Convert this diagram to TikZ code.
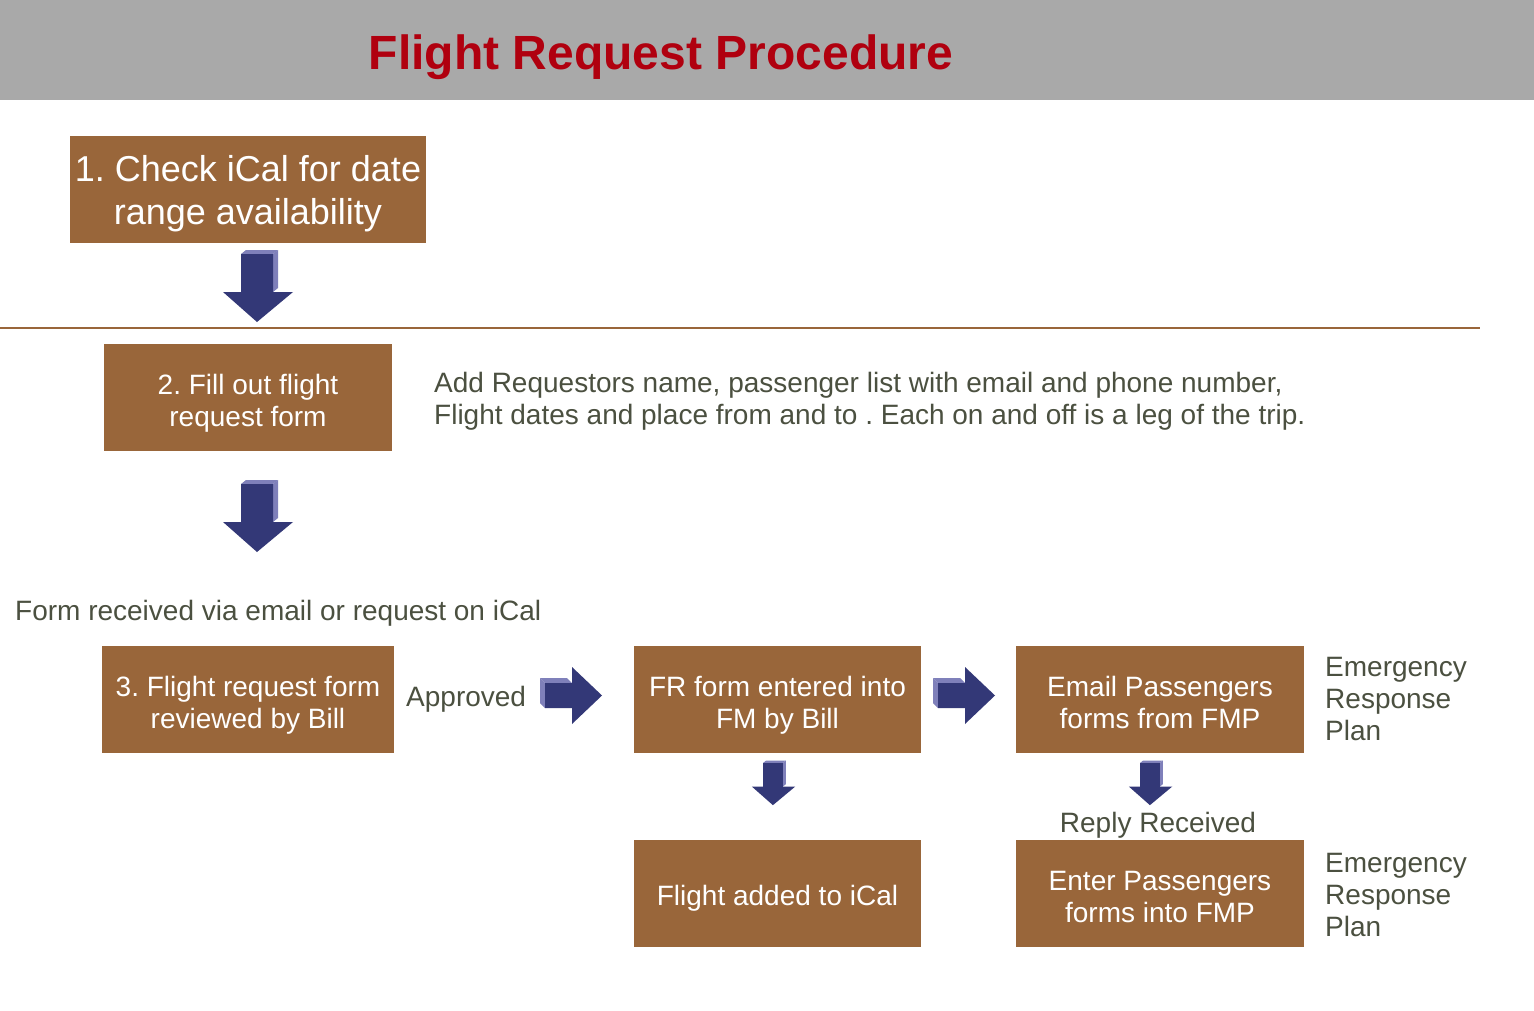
\documentclass[tikz,border=0pt]{standalone}
\usepackage{fontspec}
\setmainfont{Liberation Sans}
\definecolor{band}{HTML}{A9A9A9}
\definecolor{titlered}{HTML}{B0000F}
\definecolor{boxbrown}{HTML}{99663A}
\definecolor{txt}{HTML}{4B5040}
\definecolor{navy}{HTML}{333877}
\definecolor{navylight}{HTML}{7F80BA}
\begin{document}
\frenchspacing
\begin{tikzpicture}[x=1pt,y=-1pt,
  stepbox/.style={fill=boxbrown,draw=none,text=white,inner sep=0pt,align=center,
    text depth=0pt,text height=57pt,font=\fontsize{28}{32}\selectfont\frenchspacing},
  plain/.style={text=txt,inner sep=0pt,text depth=0pt,font=\fontsize{28}{32}\selectfont\frenchspacing},
  downarr/.pic={
    \fill[navylight] (0,0) -- (5,-4) -- (37,-4) -- (32,0) -- cycle;
    \fill[navylight] (32,0) -- (37,-4) -- (37,34) -- (32,38) -- cycle;
    \fill[navy] (0,0) -- (32,0) -- (32,38) -- (52,38) -- (16,68) -- (-18,38) -- (0,38) -- cycle;
  },
  rightarr/.pic={
    \fill[navylight] (-5,-5) -- (22,-5) -- (27,0) -- (0,0) -- cycle;
    \fill[navylight] (-5,-5) -- (0,0) -- (0,25) -- (-5,20) -- cycle;
    \fill[navy] (0,0) -- (27,0) -- (27,-16) -- (57,12.5) -- (27,41) -- (27,25) -- (0,25) -- cycle;
  }]
\useasboundingbox (0,0) rectangle (1534,1010);
\fill[white] (0,0) rectangle (1534,1010);
\fill[band] (0,0) rectangle (1534,100);
\node[text=titlered,inner sep=0pt,text depth=0pt,font=\bfseries\fontsize{48}{52}\selectfont] (title) at (661,52) {Flight Request Procedure};

\node[stepbox,minimum width=356pt,minimum height=107pt,text height=,font=\fontsize{36}{43}\selectfont\frenchspacing] (b1) at (248,189.5) {1. Check iCal for date\\range availability};
\pic at (241,254) {downarr};
\draw[boxbrown,line width=1.5pt] (0,328) -- (1480,328);

\node[stepbox,minimum width=288pt,minimum height=107pt] (b2) at (248,397.5) {2. Fill out flight\\request form};
\node[plain,anchor=west,align=left] (desc) at (434,398) {Add Requestors name, passenger list with email and phone number,\\Flight dates and place from and to . Each on and off is a leg of the trip.};
\pic at (241,484) {downarr};

\node[plain,anchor=west] (form) at (15,610) {Form received via email or request on iCal};

\node[stepbox,minimum width=292pt,minimum height=107pt] (b3) at (248,699.5) {3. Flight request form\\reviewed by Bill};
\node[plain,anchor=west] (appr) at (406,696) {Approved};
\pic at (545,683) {rightarr};
\node[stepbox,minimum width=287pt,minimum height=107pt] (fr) at (777.5,699.5) {FR form entered into\\FM by Bill};
\pic at (938,683) {rightarr};
\node[stepbox,minimum width=288pt,minimum height=107pt] (em) at (1160,699.5) {Email Passengers\\forms from FMP};
\node[plain,anchor=west,align=left] (erp1) at (1325,699) {Emergency\\Response\\Plan};

\pic[scale=0.62] at (763,763) {downarr};
\pic[scale=0.62] at (1140,763) {downarr};
\node[plain] (reply) at (1158,822) {Reply Received};

\node[stepbox,minimum width=287pt,minimum height=107pt,text height=24pt] (fa) at (777.5,893.5) {Flight added to iCal};
\node[stepbox,minimum width=288pt,minimum height=107pt] (en) at (1160,893.5) {Enter Passengers\\forms into FMP};
\node[plain,anchor=west,align=left] (erp2) at (1325,895) {Emergency\\Response\\Plan};
\end{tikzpicture}
\end{document}
